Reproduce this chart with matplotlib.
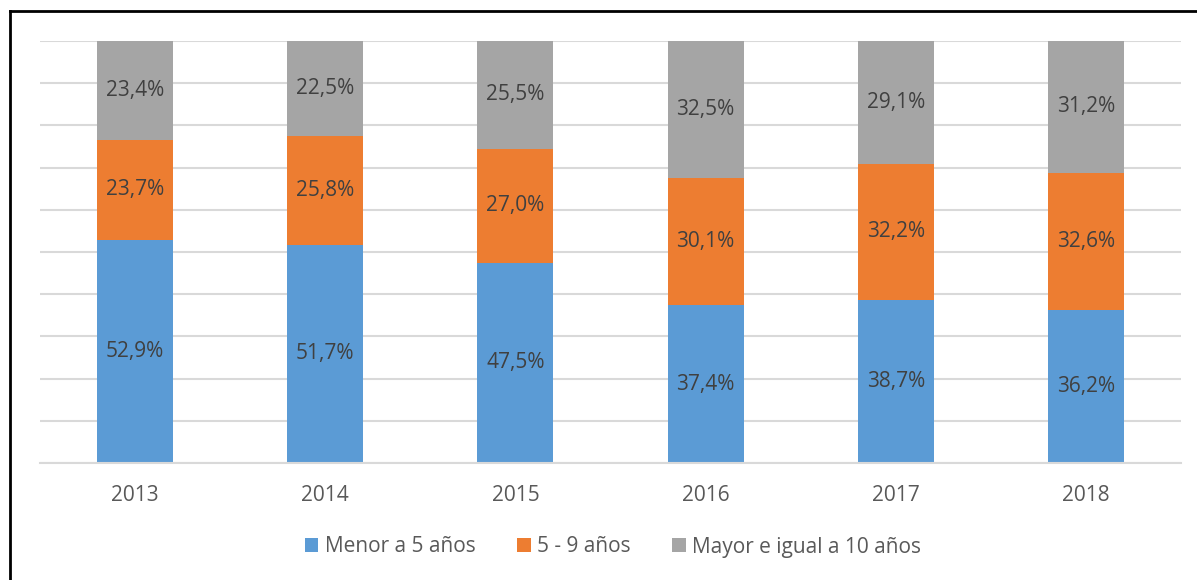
import matplotlib
matplotlib.use("Agg")
import matplotlib.pyplot as plt
from matplotlib.lines import Line2D
from matplotlib.patches import Patch
import numpy as np

years = ["2013", "2014", "2015", "2016", "2017", "2018"]
menor5 = [52.9, 51.7, 47.5, 37.4, 38.7, 36.2]
de5a9 = [23.7, 25.8, 27.0, 30.1, 32.2, 32.6]
mayor10 = [23.4, 22.5, 25.5, 32.5, 29.1, 31.2]
series_names = ["Menor a 5 años", "5 - 9 años", "Mayor e igual a 10 años"]
colors = ["#5B9BD5", "#ED7D31", "#A5A5A5"]

plt.rcParams['font.family'] = ['Open Sans', 'DejaVu Sans']

W, H = 1197, 580
fig = plt.figure(figsize=(W/100, H/100), dpi=100)
ax = fig.add_axes([40/W, (H-463)/H, (1181-40)/W, (463-41)/H])

x = np.arange(len(years))
series = [menor5, de5a9, mayor10]
bottom = np.zeros(len(years))
for vals, c in zip(series, colors):
    v = np.array(vals)
    ax.bar(x, v, bottom=bottom, width=0.4, color=c, zorder=2)
    for xi, b, vi in zip(x, bottom, v):
        ax.text(xi, b + vi/2, f"{vi:.1f}%".replace(".", ","), ha="center", va="center",
                fontsize=15, color="#404040", zorder=3)
    bottom += v

ax.set_xlim(-0.5, len(years) - 0.5)
ax.set_ylim(0, 100)
ax.set_yticks(np.arange(0, 101, 10))
ax.yaxis.grid(True, color="#D9D9D9", linewidth=1.5, zorder=0)
ax.set_yticklabels([])
ax.tick_params(axis="y", length=0)
ax.set_xticks(x)
ax.set_xticklabels(years, fontsize=15, color="#595959")
ax.tick_params(axis="x", length=0, pad=16)
for s in ["top", "right", "left"]:
    ax.spines[s].set_visible(False)
ax.spines["bottom"].set_color("#D9D9D9")
ax.spines["bottom"].set_linewidth(1.5)

handles = [Patch(facecolor=c, edgecolor="none") for c in colors]
fig.legend(handles, series_names, loc="center", bbox_to_anchor=(613/W, (H-547)/H),
           ncol=3, frameon=False, fontsize=15, labelcolor="#595959",
           handlelength=0.65, handleheight=0.65, handletextpad=0.3, columnspacing=2.0)

# partial black frame (left and top)
fig.add_artist(Line2D([10/W, 10/W], [0, (H-11)/H], color="black", linewidth=2))
fig.add_artist(Line2D([10/W, 1], [(H-11)/H, (H-11)/H], color="black", linewidth=2))

fig.savefig("out.png", dpi=100)
